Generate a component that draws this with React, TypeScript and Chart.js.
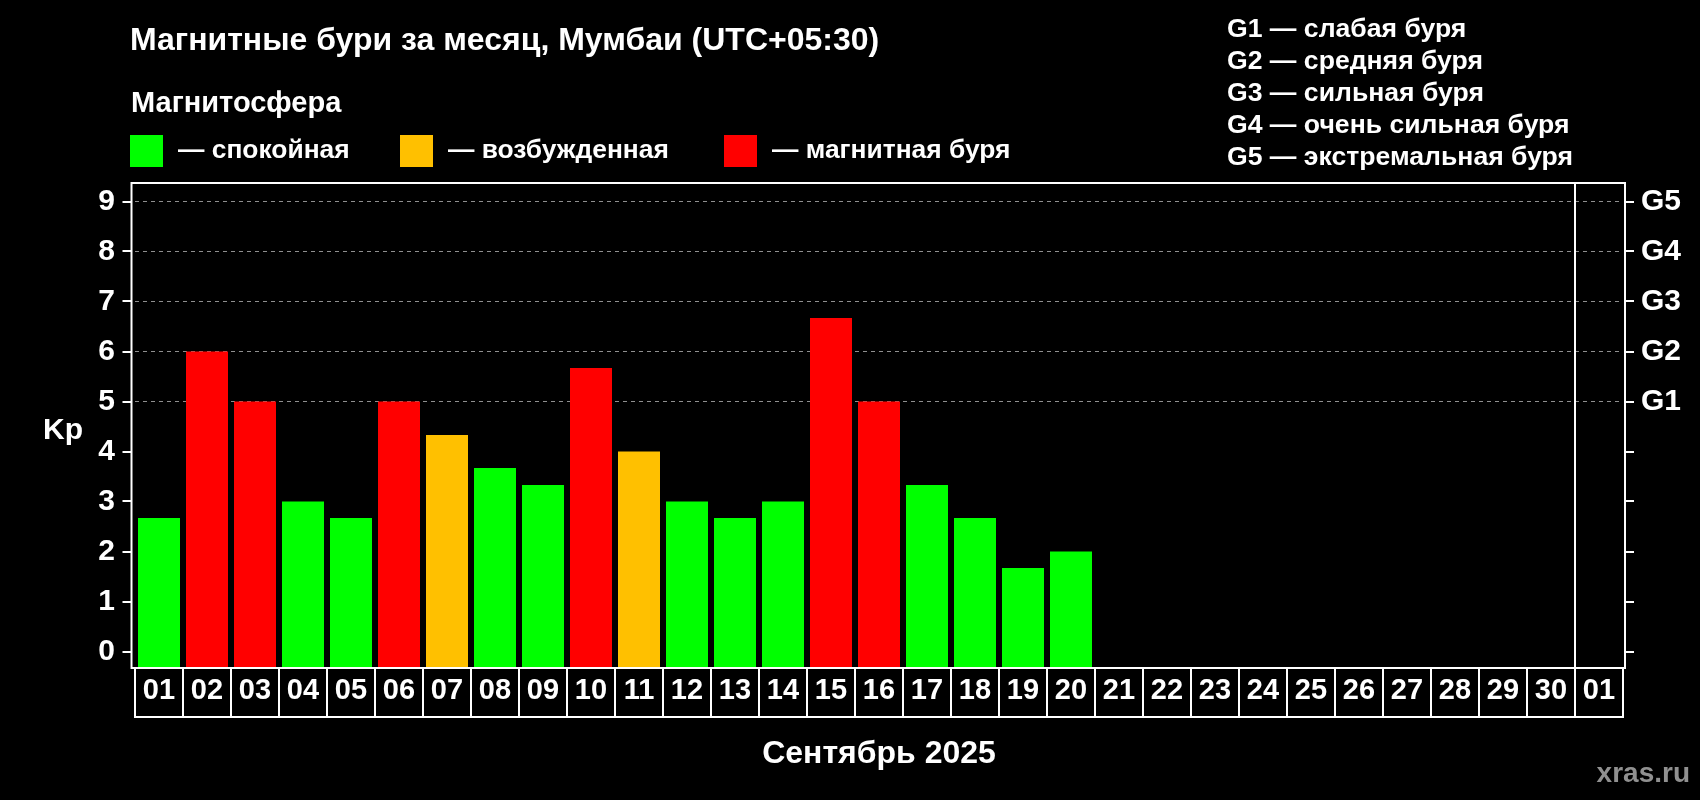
import React, { useEffect, useRef } from "react";
import { Chart, registerables } from "chart.js";

Chart.register(...registerables);

const FONT = '"Liberation Sans", Arial, Helvetica, sans-serif';

const TITLE = "Магнитные бури за месяц, Мумбаи (UTC+05:30)";
const SUBTITLE = "Магнитосфера";
const X_TITLE = "Сентябрь 2025";
const Y_TITLE = "Kp";
const SOURCE = "xras.ru";

const DAY_LABELS = [
  "01", "02", "03", "04", "05", "06", "07", "08", "09", "10",
  "11", "12", "13", "14", "15", "16", "17", "18", "19", "20",
  "21", "22", "23", "24", "25", "26", "27", "28", "29", "30", "01",
];

const KP_VALUES = [
  2.67, 6, 5, 3, 2.67, 5, 4.33, 3.67, 3.33, 5.67,
  4, 3, 2.67, 3, 6.67, 5, 3.33, 2.67, 1.67, 2,
];

const Y_TICKS = [0, 1, 2, 3, 4, 5, 6, 7, 8, 9];
const G_TICK_LABELS = ["", "", "", "", "", "G1", "G2", "G3", "G4", "G5"];
const Y_MIN = -0.33;
const Y_MAX = 9.37;

const STATE_LABELS = ["— спокойная", "— возбужденная", "— магнитная буря"];
const STATE_COLORS = ["#00ff00", "#ffc000", "#ff0000"];

const STORM_LEGEND = [
  "G1 — слабая буря",
  "G2 — средняя буря",
  "G3 — сильная буря",
  "G4 — очень сильная буря",
  "G5 — экстремальная буря",
];

const GRID_COLOR = "#8f8f8f";

function colorFor(v: number | null): string {
  if (v === null) return "transparent";
  if (v >= 5) return STATE_COLORS[2];
  if (v >= 4) return STATE_COLORS[1];
  return STATE_COLORS[0];
}

const decorPlugin = {
  id: "decor",
  afterDraw(chart: any) {
    const { ctx, chartArea: ca, scales } = chart;
    const xs = scales.x;
    const ys = scales.y;
    const half = (xs.getPixelForValue(1) - xs.getPixelForValue(0)) / 2;
    const left = ca.left - 3.5;
    const right = ca.right + 2;
    const top = ca.top;
    const bottom = ca.bottom;
    ctx.save();
    ctx.strokeStyle = "#ffffff";
    ctx.lineWidth = 2;
    ctx.strokeRect(left, top, right - left, bottom - top);

    // separator before next month
    const sepX = xs.getPixelForValue(DAY_LABELS.length - 1) - half;
    ctx.beginPath();
    ctx.moveTo(sepX, top);
    ctx.lineTo(sepX, bottom);
    ctx.stroke();

    // day cells
    const cellH = 49;
    for (let i = 0; i < DAY_LABELS.length; i++) {
      const cx = xs.getPixelForValue(i);
      ctx.strokeRect(cx - half, bottom, half * 2, cellH);
    }

    // tick marks
    ctx.beginPath();
    for (const v of Y_TICKS) {
      const py = Math.round(ys.getPixelForValue(v));
      ctx.moveTo(left - 9, py);
      ctx.lineTo(left, py);
      ctx.moveTo(right, py);
      ctx.lineTo(right + 9, py);
    }
    ctx.stroke();

    // texts
    ctx.fillStyle = "#ffffff";
    ctx.textBaseline = "alphabetic";
    ctx.textAlign = "left";
    ctx.font = `bold 32px ${FONT}`;
    ctx.fillText(TITLE, 130, 50);
    ctx.font = `bold 29px ${FONT}`;
    ctx.fillText(SUBTITLE, 131, 112);

    const boxX = [130, 400, 724];
    const textX = [178, 448, 772];
    ctx.font = `bold 26.4px ${FONT}`;
    for (let i = 0; i < STATE_LABELS.length; i++) {
      ctx.fillStyle = STATE_COLORS[i];
      ctx.fillRect(boxX[i], 135, 33, 32);
      ctx.fillStyle = "#ffffff";
      ctx.fillText(STATE_LABELS[i], textX[i], 158);
    }

    ctx.font = `bold 26.6px ${FONT}`;
    const gBase = [37, 69, 101, 133, 165];
    STORM_LEGEND.forEach((t, i) => ctx.fillText(t, 1227, gBase[i]));

    ctx.font = `bold 30px ${FONT}`;
    ctx.fillText(Y_TITLE, 43, 439);

    ctx.fillStyle = "#909090";
    ctx.font = `bold 28px ${FONT}`;
    ctx.textAlign = "right";
    ctx.fillText(SOURCE, 1690, 782);
    ctx.restore();
  },
};

export default function App() {
  const ref = useRef<HTMLCanvasElement | null>(null);

  useEffect(() => {
    if (!ref.current) return;
    Chart.defaults.font.family = FONT;
    Chart.defaults.color = "#ffffff";
    const data = DAY_LABELS.map((_, i) => (i < KP_VALUES.length ? KP_VALUES[i] : null));
    const chart = new Chart(ref.current, {
      type: "bar",
      data: {
        labels: DAY_LABELS,
        datasets: [
          {
            data,
            backgroundColor: data.map(colorFor),
            borderWidth: 0,
            base: Y_MIN,
            barPercentage: 0.875,
            categoryPercentage: 1,
            yAxisID: "y",
          } as any,
        ],
      },
      options: {
        animation: false,
        responsive: false,
        devicePixelRatio: 1,
        layout: { padding: { top: 183, left: 0, right: 0, bottom: 0 } },
        plugins: {
          legend: { display: false },
          tooltip: { enabled: false },
          title: { display: false },
        },
        scales: {
          x: {
            type: "category",
            offset: true,
            grid: { display: false, drawTicks: false },
            border: { display: false },
            ticks: {
              color: "#ffffff",
              font: { size: 29, weight: "bold" },
              padding: 6,
              maxRotation: 0,
              autoSkip: false,
            },
            title: {
              display: true,
              text: X_TITLE,
              color: "#ffffff",
              font: { size: 32, weight: "bold" },
              padding: { top: 0, bottom: 27 },
            },
            afterFit: (s: any) => {
              s.height = 132;
            },
          },
          y: {
            type: "linear",
            position: "left",
            min: Y_MIN,
            max: Y_MAX,
            afterBuildTicks: (s: any) => {
              s.ticks = Y_TICKS.map((v) => ({ value: v }));
            },
            grid: {
              drawTicks: false,
              lineWidth: 1,
              color: (c: any) => (c.tick && c.tick.value >= 5 ? GRID_COLOR : "rgba(0,0,0,0)"),
            },
            border: { display: false, dash: [4, 4] },
            ticks: {
              color: "#ffffff",
              font: { size: 30, weight: "bold" },
              padding: 20,
            },
            afterFit: (s: any) => {
              s.width = 135;
            },
          },
          y2: {
            type: "linear",
            position: "right",
            min: Y_MIN,
            max: Y_MAX,
            afterBuildTicks: (s: any) => {
              s.ticks = Y_TICKS.map((v) => ({ value: v }));
            },
            grid: { drawOnChartArea: false, drawTicks: false },
            border: { display: false },
            ticks: {
              color: "#ffffff",
              font: { size: 30, weight: "bold" },
              padding: 18,
              callback: (v: any) => G_TICK_LABELS[Y_TICKS.indexOf(Number(v))] ?? "",
            },
            afterFit: (s: any) => {
              s.width = 77;
            },
          },
        },
      },
      plugins: [decorPlugin],
    } as any);
    return () => chart.destroy();
  }, []);

  return (
    <div
      style={{
        position: "fixed",
        left: 0,
        top: 0,
        width: 1700,
        height: 800,
        background: "#000000",
      }}
    >
      <canvas ref={ref} width={1700} height={800} style={{ display: "block" }} />
    </div>
  );
}
